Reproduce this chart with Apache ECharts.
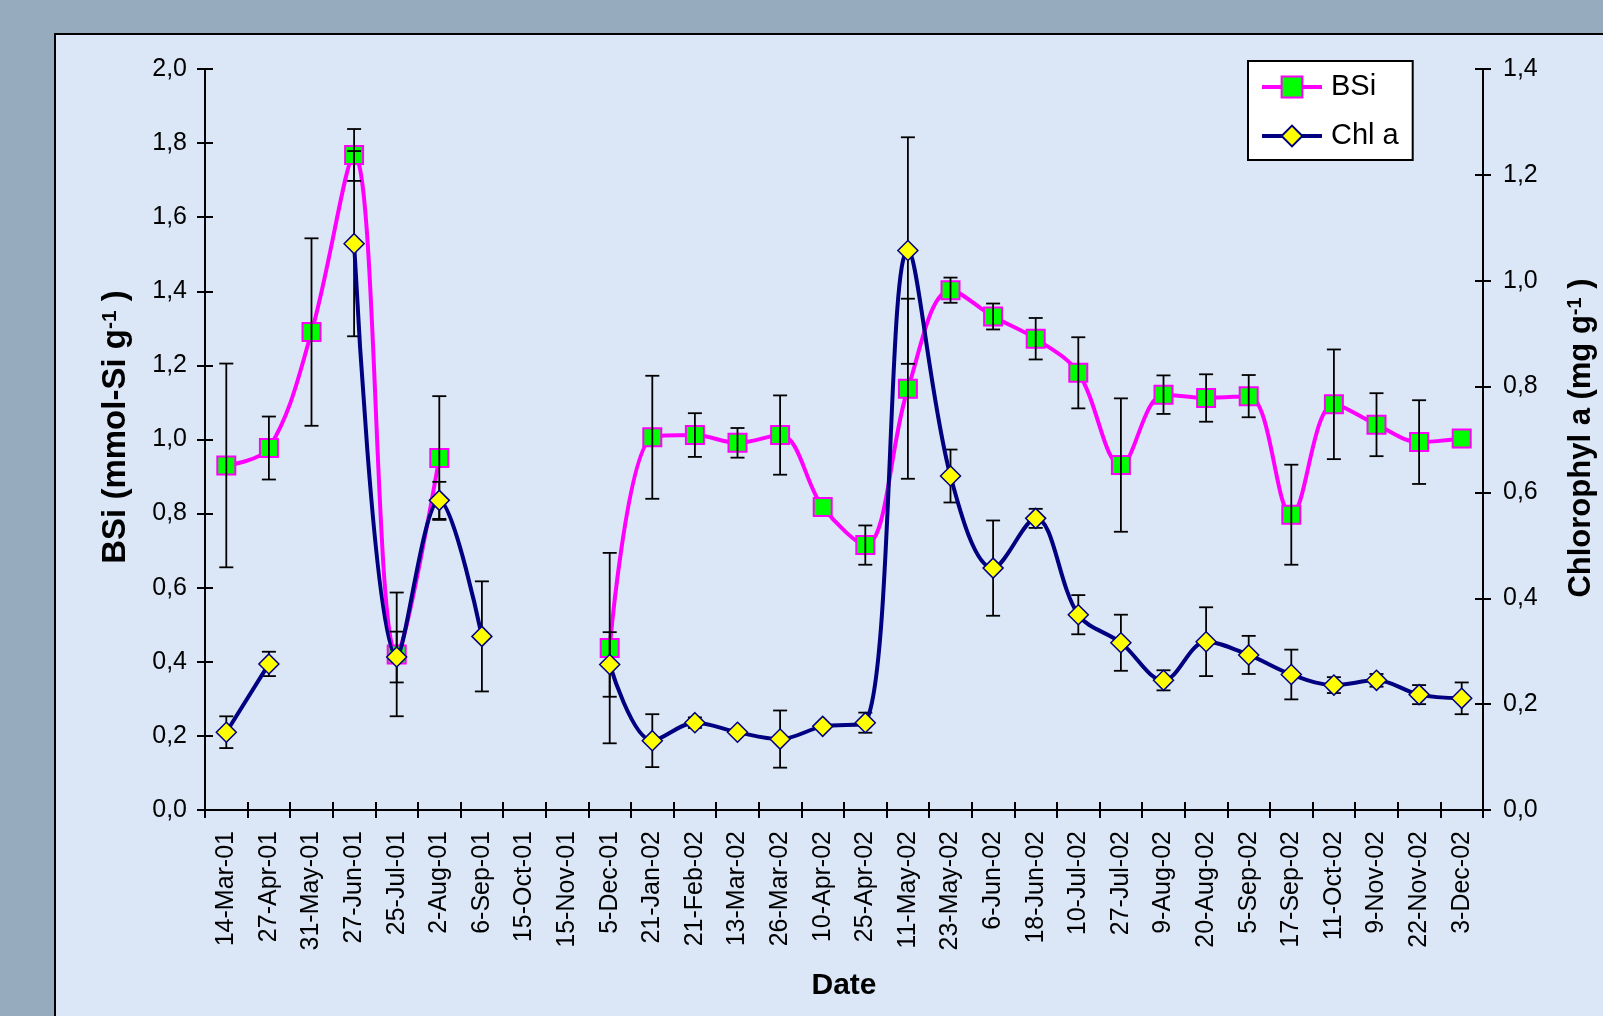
<!DOCTYPE html>
<html>
<head>
<meta charset="utf-8">
<script src="https://cdn.jsdelivr.net/npm/echarts@6/dist/echarts.min.js"></script>
<style>
  html, body { margin: 0; padding: 0; background: #97abbf; }
  #chart { width: 1603px; height: 1016px; }
</style>
</head>
<body>
<div id="chart"></div>
<script>
// ---------- data ----------
const categories = ['14-Mar-01','27-Apr-01','31-May-01','27-Jun-01','25-Jul-01','2-Aug-01','6-Sep-01','15-Oct-01','15-Nov-01','5-Dec-01','21-Jan-02','21-Feb-02','13-Mar-02','26-Mar-02','10-Apr-02','25-Apr-02','11-May-02','23-May-02','6-Jun-02','18-Jun-02','10-Jul-02','27-Jul-02','9-Aug-02','20-Aug-02','5-Sep-02','17-Sep-02','11-Oct-02','9-Nov-02','22-Nov-02','3-Dec-02'];

const bsi    = [0.93, 0.977, 1.29, 1.768, 0.42, 0.95, null, null, null, 0.437, 1.006, 1.012, 0.991, 1.012, 0.818, 0.715, 1.137, 1.403, 1.332, 1.272, 1.180, 0.931, 1.121, 1.112, 1.117, 0.797, 1.095, 1.040, 0.993, 1.003];
const bsiErr = [0.275, 0.085, 0.253, 0.07, 0.167, 0.167, null, null, null, 0.257, 0.166, 0.059, 0.04, 0.107, null, 0.053, 0.243, 0.034, 0.035, 0.056, 0.096, 0.18, 0.052, 0.064, 0.057, 0.135, 0.148, 0.085, 0.113, null];

const chl    = [0.147, 0.276, null, 1.070, 0.289, 0.585, 0.328, null, null, 0.275, 0.131, 0.165, 0.147, 0.134, 0.158, 0.165, 1.057, 0.631, 0.457, 0.551, 0.369, 0.316, 0.245, 0.318, 0.293, 0.256, 0.236, 0.245, 0.218, 0.211];
const chlErr = [0.03, 0.023, null, 0.175, 0.048, 0.035, 0.104, null, null, 0.061, 0.05, 0.01, null, 0.054, null, 0.019, 0.214, 0.05, 0.09, 0.018, 0.037, 0.053, 0.019, 0.065, 0.036, 0.047, 0.015, 0.012, 0.018, 0.03];

const leftTicks  = { min: 0, max: 2.0, interval: 0.2 };
const rightTicks = { min: 0, max: 1.4, interval: 0.2 };

// ---------- helpers ----------
function errData(vals, errs) {
  const out = [];
  vals.forEach((v, i) => { if (v != null && errs[i] != null) out.push([i, v, errs[i]]); });
  return out;
}
function errRender(params, api) {
  const i = api.value(0), v = api.value(1), e = api.value(2);
  const hi = api.coord([i, v + e]);
  const lo = api.coord([i, v - e]);
  const w = 7;
  const st = { stroke: '#000', lineWidth: 1.8 };
  return {
    type: 'group',
    children: [
      { type: 'line', shape: { x1: hi[0], y1: hi[1], x2: lo[0], y2: lo[1] }, style: st },
      { type: 'line', shape: { x1: hi[0] - w, y1: hi[1], x2: hi[0] + w, y2: hi[1] }, style: st },
      { type: 'line', shape: { x1: lo[0] - w, y1: lo[1], x2: lo[0] + w, y2: lo[1] }, style: st }
    ]
  };
}
const fmt = v => v.toFixed(1).replace('.', ',');
const FONT = "'Liberation Sans', Arial, sans-serif";
const gridRect = { left: 205, right: 120, top: 69, bottom: 206 };

const axisLineStyle = { color: '#000', width: 2 };
const tickStyle = { color: '#000', width: 2 };

const chart = echarts.init(document.getElementById('chart'));
chart.setOption({
  backgroundColor: '#97abbf',
  animation: false,
  graphic: [
    { type: 'rect', z: -10, shape: { x: 55, y: 34, width: 1600, height: 1000 },
      style: { fill: '#dbe7f6', stroke: '#000', lineWidth: 2 } },
    { type: 'text', z: 10, x: 116, y: 427, rotation: Math.PI / 2,
      style: { text: 'BSi (mmol-Si g{sup|-1} )', font: "bold 33px " + FONT, fill: '#000',
               align: 'center', verticalAlign: 'middle',
               rich: { sup: { font: "bold 21px " + FONT, fill: '#000', verticalAlign: 'top', lineHeight: 24 } } } },
    { type: 'text', z: 10, x: 1581, y: 438, rotation: Math.PI / 2,
      style: { text: 'Chlorophyl a (mg g{sup|-1} )', font: "bold 31px " + FONT, fill: '#000',
               align: 'center', verticalAlign: 'middle',
               rich: { sup: { font: "bold 20px " + FONT, fill: '#000', verticalAlign: 'top', lineHeight: 23 } } } },
    { type: 'text', z: 10, x: 844, y: 986,
      style: { text: 'Date', font: "bold 30px " + FONT, fill: '#000', align: 'center', verticalAlign: 'middle' } }
  ],
  legend: {
    data: ['BSi', 'Chl a'],
    orient: 'vertical',
    left: 1248, top: 61,
    padding: [11, 14, 9, 12],
    itemGap: 19,
    itemWidth: 60, itemHeight: 26,
    lineStyle: { width: 4 },
    backgroundColor: '#fff',
    borderColor: '#000', borderWidth: 2,
    textStyle: { fontFamily: FONT, fontSize: 29, color: '#000', lineHeight: 30, padding: [0, 0, 0, 4] }
  },
  grid: [
    Object.assign({}, gridRect),
    Object.assign({}, gridRect)
  ],
  xAxis: [
    { type: 'category', gridIndex: 0, data: categories, boundaryGap: true, position: 'bottom',
      axisLine: { lineStyle: axisLineStyle },
      axisTick: { show: true, length: 8, lineStyle: tickStyle, interval: 0 },
      axisLabel: { interval: 0, rotate: 90, margin: 21, fontFamily: FONT, fontSize: 25, color: '#000' },
      splitLine: { show: false } },
    { type: 'category', gridIndex: 1, data: categories, boundaryGap: true, position: 'bottom',
      axisLine: { show: false },
      axisTick: { show: true, inside: true, length: 8, lineStyle: tickStyle, interval: 0 },
      axisLabel: { show: false }, splitLine: { show: false } }
  ],
  yAxis: [
    Object.assign({ type: 'value', gridIndex: 0, position: 'left',
      axisLine: { show: true, lineStyle: axisLineStyle },
      axisTick: { show: true, length: 8, lineStyle: tickStyle },
      axisLabel: { formatter: fmt, margin: 18, fontFamily: FONT, fontSize: 25, color: '#000' },
      splitLine: { show: false } }, leftTicks),
    Object.assign({ type: 'value', gridIndex: 0, position: 'right',
      axisLine: { show: true, lineStyle: axisLineStyle },
      axisTick: { show: true, length: 8, lineStyle: tickStyle },
      axisLabel: { formatter: fmt, margin: 20, fontFamily: FONT, fontSize: 25, color: '#000' },
      splitLine: { show: false } }, rightTicks),
    Object.assign({ type: 'value', gridIndex: 1, position: 'left',
      axisLine: { show: false },
      axisTick: { show: true, inside: true, length: 8, lineStyle: tickStyle },
      axisLabel: { show: false }, splitLine: { show: false } }, leftTicks),
    Object.assign({ type: 'value', gridIndex: 1, position: 'right',
      axisLine: { show: false },
      axisTick: { show: true, inside: true, length: 8, lineStyle: tickStyle },
      axisLabel: { show: false }, splitLine: { show: false } }, rightTicks)
  ],
  series: [
    { name: 'BSi', type: 'line', xAxisIndex: 0, yAxisIndex: 0, data: bsi, z: 2,
      smooth: 0.35, connectNulls: false,
      symbol: 'rect', symbolSize: 18,
      lineStyle: { color: '#ff00ff', width: 4 },
      itemStyle: { color: '#00ff00', borderColor: '#ff00ff', borderWidth: 2 } },
    { name: 'BSi err', type: 'custom', xAxisIndex: 0, yAxisIndex: 0, z: 3,
      data: errData(bsi, bsiErr), renderItem: errRender, encode: { x: 0, y: 1 } },
    { name: 'Chl a', type: 'line', xAxisIndex: 0, yAxisIndex: 1, data: chl, z: 5,
      smooth: 0.35, connectNulls: false,
      symbol: 'diamond', symbolSize: 20,
      lineStyle: { color: '#000080', width: 4 },
      itemStyle: { color: '#ffff00', borderColor: '#000080', borderWidth: 1.5 } },
    { name: 'Chl err', type: 'custom', xAxisIndex: 0, yAxisIndex: 1, z: 4,
      data: errData(chl, chlErr), renderItem: errRender, encode: { x: 0, y: 1 } }
  ]
});
</script>
</body>
</html>
